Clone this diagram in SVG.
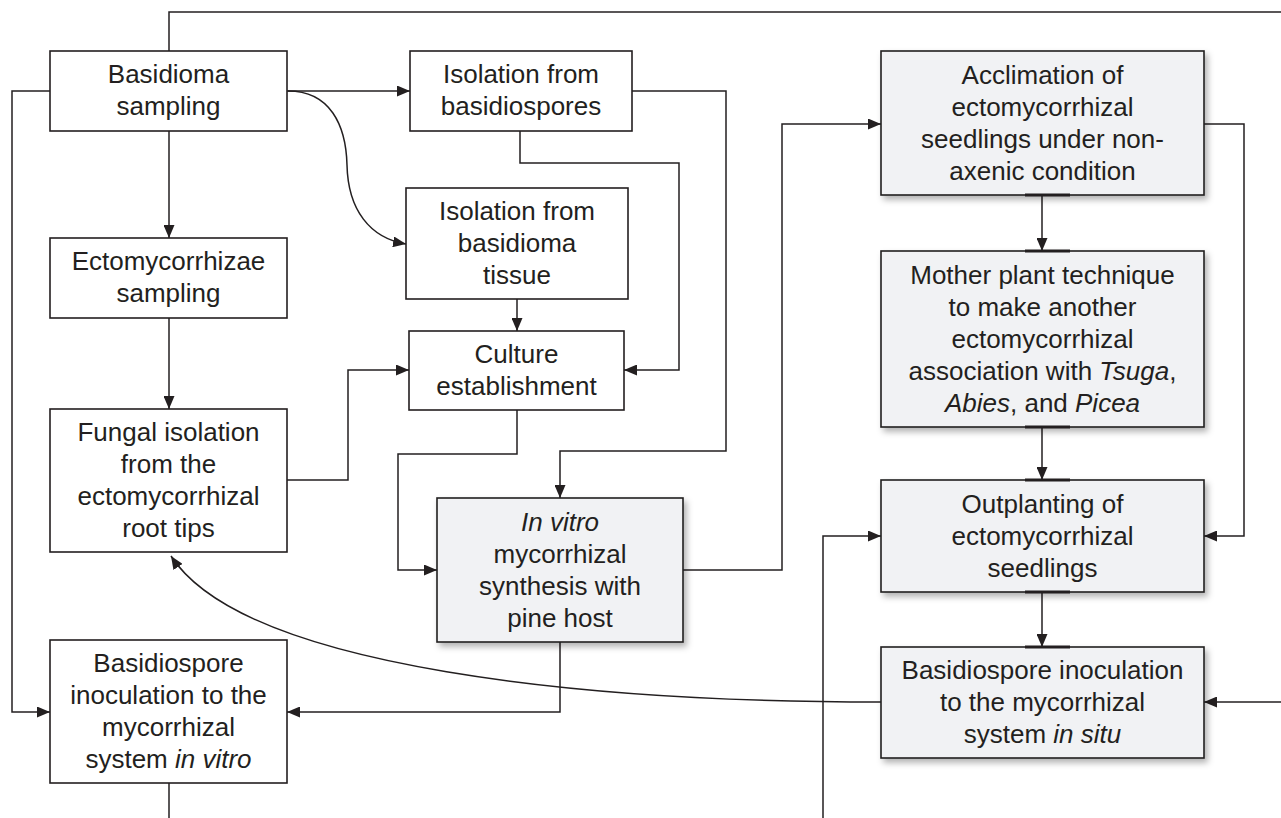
<svg xmlns="http://www.w3.org/2000/svg" width="1281" height="818" viewBox="0 0 1281 818">
<defs>
<marker id="ah" markerWidth="13" markerHeight="11" refX="13" refY="5.5" orient="auto" markerUnits="userSpaceOnUse"><path d="M0,0 L13,5.5 L0,11 z" fill="#231f20"/></marker>
<filter id="sh" x="-10%" y="-10%" width="125%" height="130%"><feDropShadow dx="3" dy="4" stdDeviation="3" flood-color="#000" flood-opacity="0.3"/></filter>
<style>
.b{fill:#fff;stroke:#231f20;stroke-width:1.6}
.g{fill:#f1f2f4;stroke:#231f20;stroke-width:1.6;filter:url(#sh)}
.port{stroke:#231f20;stroke-width:3.2}
text{font-family:"Liberation Sans",Arial,sans-serif;font-size:26px;fill:#231f20;text-anchor:middle}
.i{font-style:italic}
.c{fill:none;stroke:#231f20;stroke-width:1.5}
.a{marker-end:url(#ah)}
</style>
</defs>
<rect width="1281" height="818" fill="#fff"/>
<g id="connectors">
<path class="c" d="M169,51 V12 H1281"/>
<path class="c a" d="M50,91 H12 V712 H50"/>
<path class="c a" d="M287,91 H410"/>
<path class="c a" d="M288,91 C330,91 346,125 347,165 C348,210 370,238 406,244"/>
<path class="c a" d="M169,131 V238"/>
<path class="c a" d="M169,318 V409"/>
<path class="c" d="M169,783 V818"/>
<path class="c a" d="M632,91 H726 V451 H560 V498"/>
<path class="c a" d="M520,131 V163 H679 V370 H624"/>
<path class="c a" d="M517,299 V331"/>
<path class="c a" d="M287,480 H348 V370 H409"/>
<path class="c a" d="M517,410 V454 H398 V570 H437"/>
<path class="c a" d="M683,570 H782 V124 H881"/>
<path class="c a" d="M560,642 V712 H287"/>
<path class="c a" d="M881,702 C595,702 245,670 171,556"/>
<path class="c a" d="M1042,195 V251"/>
<path class="c a" d="M1204,124 H1244 V536 H1204"/>
<path class="c a" d="M1042,427 V480"/>
<path class="c a" d="M1042,592 V647"/>
<path class="c a" d="M1281,702 H1204"/>
<path class="c a" d="M823,818 V536 H881"/>
</g>
<g id="basidioma-sampling"><rect class="b" x="50" y="51" width="237" height="80"/><text x="168.5" y="83">Basidioma</text><text x="168.5" y="115">sampling</text></g>
<g id="ecto-sampling"><rect class="b" x="50" y="238" width="237" height="80"/><text x="168.5" y="270">Ectomycorrhizae</text><text x="168.5" y="302">sampling</text></g>
<g id="fungal-isolation"><rect class="b" x="50" y="409" width="237" height="143"/><text x="168.5" y="441">Fungal isolation</text><text x="168.5" y="473">from the</text><text x="168.5" y="505">ectomycorrhizal</text><text x="168.5" y="537">root tips</text></g>
<g id="inoc-in-vitro"><rect class="b" x="50" y="640" width="237" height="143"/><text x="168.5" y="672">Basidiospore</text><text x="168.5" y="704">inoculation to the</text><text x="168.5" y="736">mycorrhizal</text><text x="168.5" y="768">system <tspan class="i">in vitro</tspan></text></g>
<g id="iso-basidiospores"><rect class="b" x="410" y="51" width="222" height="80"/><text x="521" y="83">Isolation from</text><text x="521" y="115">basidiospores</text></g>
<g id="iso-tissue"><rect class="b" x="406" y="188" width="222" height="111"/><text x="517" y="219.5">Isolation from</text><text x="517" y="251.5">basidioma</text><text x="517" y="283.5">tissue</text></g>
<g id="culture"><rect class="b" x="409" y="331" width="215" height="79"/><text x="516.5" y="363">Culture</text><text x="516.5" y="395">establishment</text></g>
<g id="in-vitro-synthesis"><rect class="g" x="437" y="498" width="246" height="144"/><text x="560" y="530.5" class="i">In vitro</text><text x="560" y="562.5">mycorrhizal</text><text x="560" y="594.5">synthesis with</text><text x="560" y="626.5">pine host</text></g>
<g id="acclimation"><rect class="g" x="881" y="51" width="323" height="144"/><text x="1042.5" y="83.5">Acclimation of</text><text x="1042.5" y="115.5">ectomycorrhizal</text><text x="1042.5" y="147.5">seedlings under non-</text><text x="1042.5" y="179.5">axenic condition</text><line class="port" x1="1025" y1="195" x2="1070" y2="195"/></g>
<g id="mother-plant"><rect class="g" x="881" y="251" width="323" height="176"/><text x="1042.5" y="283.5">Mother plant technique</text><text x="1042.5" y="315.5">to make another</text><text x="1042.5" y="347.5">ectomycorrhizal</text><text x="1042.5" y="379.5">association with <tspan class="i">Tsuga</tspan>,</text><text x="1042.5" y="411.5"><tspan class="i">Abies</tspan>, and <tspan class="i">Picea</tspan></text><line class="port" x1="1025" y1="251" x2="1070" y2="251"/><line class="port" x1="1025" y1="427" x2="1070" y2="427"/></g>
<g id="outplanting"><rect class="g" x="881" y="480" width="323" height="112"/><text x="1042.5" y="512.5">Outplanting of</text><text x="1042.5" y="544.5">ectomycorrhizal</text><text x="1042.5" y="576.5">seedlings</text><line class="port" x1="1025" y1="480" x2="1070" y2="480"/><line class="port" x1="1025" y1="592" x2="1070" y2="592"/></g>
<g id="inoc-in-situ"><rect class="g" x="881" y="647" width="323" height="111"/><text x="1042.5" y="679">Basidiospore inoculation</text><text x="1042.5" y="711">to the mycorrhizal</text><text x="1042.5" y="743">system <tspan class="i">in situ</tspan></text><line class="port" x1="1025" y1="647" x2="1070" y2="647"/></g>
</svg>
